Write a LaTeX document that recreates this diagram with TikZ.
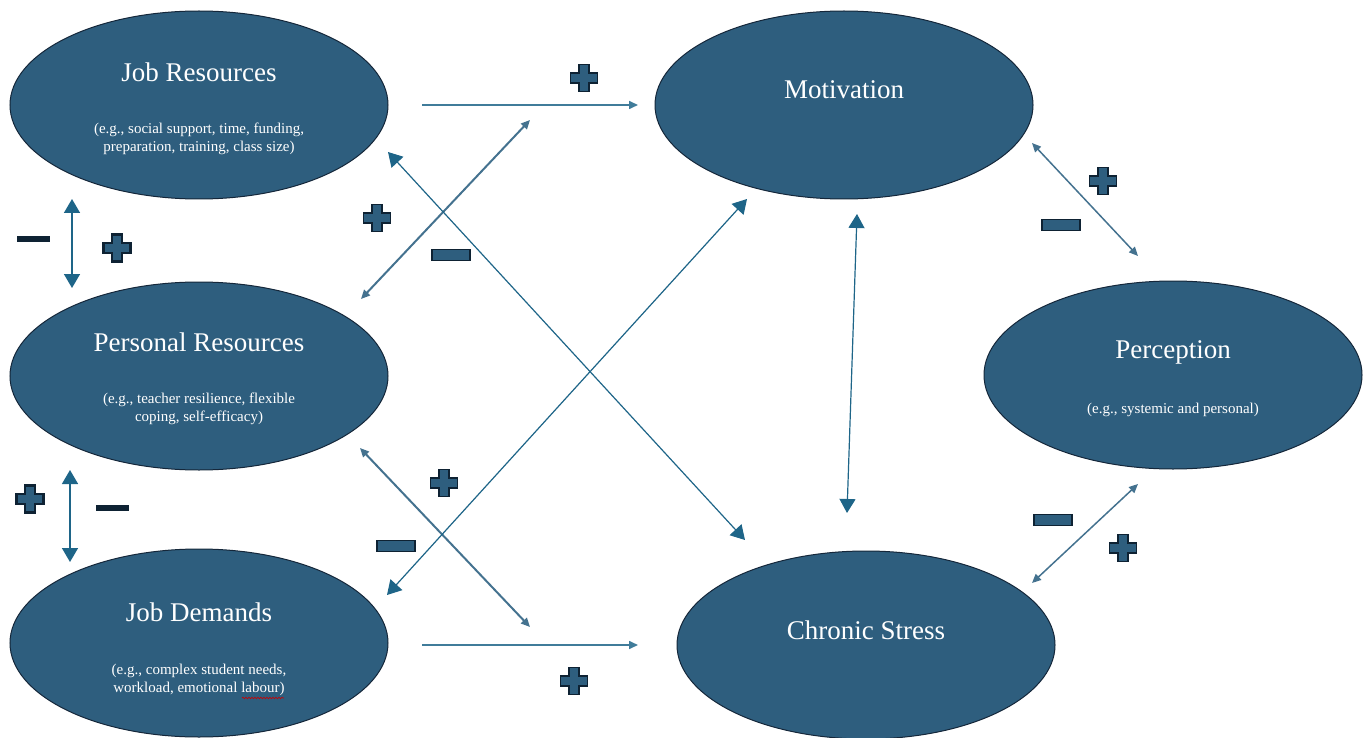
\documentclass[tikz,border=0pt]{standalone}
\usepackage{fontspec}
\setmainfont{Liberation Serif}
\usetikzlibrary{shapes.geometric,arrows.meta,positioning,decorations.pathmorphing}

\definecolor{bubble}{HTML}{2E5E7E}
\definecolor{rim}{HTML}{15273A}
\definecolor{link}{HTML}{1E6588}
\definecolor{linkgrey}{HTML}{44728F}
\definecolor{signdark}{HTML}{0E2233}

\tikzset{
  construct/.style={ellipse, fill=bubble, draw=rim, line width=1pt,
    minimum width=378pt, minimum height=188pt, inner sep=0pt},
  heading/.style={text=white, font=\fontsize{27}{30}\selectfont, inner sep=0pt},
  example/.style={text=white, font=\fontsize{15}{17.5}\selectfont, align=center, inner sep=0pt},
  bigtip/.tip={Triangle[width=16pt,length=14pt]},
  smalltip/.tip={Triangle[width=8pt,length=9pt]},
  strong/.style={link, line width=1.2pt, bigtip-bigtip},
  light/.style={linkgrey, line width=2pt, smalltip-smalltip},
  oneway/.style={link!85!white, line width=1.6pt, -smalltip},
  plussign/.pic={
    \filldraw[fill=bubble, draw=signdark, line width=#1]
      (-5,-13.5) -- (5,-13.5) -- (5,-5) -- (13.5,-5) -- (13.5,5) -- (5,5)
      -- (5,13.5) -- (-5,13.5) -- (-5,5) -- (-13.5,5) -- (-13.5,-5) -- (-5,-5) -- cycle;
  },
  pics/plussign/.default=1.2pt,
  minussign/.pic={
    \filldraw[fill=bubble, draw=signdark, line width=1.2pt] (-19,-5.5) rectangle (19,5.5);
  },
  darkminus/.pic={
    \fill[signdark] (-16.5,-3) rectangle (16.5,3);
  }
}

\begin{document}
\begin{tikzpicture}[x=1pt,y=-1pt]
\useasboundingbox (0,0) rectangle (1370,738);

% Constructs
\node[construct] (jr)  at (199,105) {};
\node[construct] (pr)  at (199,376) {};
\node[construct] (jd)  at (199,643) {};
\node[construct] (mot) at (844,105) {};
\node[construct] (cs)  at (866,645) {};
\node[construct] (per) at (1173,375) {};

% Titles and examples
\node[heading] (jr-t) at ([yshift=33pt]jr.center) {Job Resources};
\node[example] (jr-e) at ([yshift=-34pt]jr.center) {(e.g., social support, time, funding,\\preparation, training, class size)};
\node[heading] (pr-t) at ([yshift=34pt]pr.center) {Personal Resources};
\node[example] (pr-e) at ([yshift=-33pt]pr.center) {(e.g., teacher resilience, flexible\\coping, self-efficacy)};
\node[heading] (jd-t) at ([yshift=31pt]jd.center) {Job Demands};
\node[example] (jd-e) at ([yshift=-37pt]jd.center) {(e.g., complex student needs,\\workload, emotional labour)};
\node[heading] (mot-t) at ([yshift=15pt]mot.center) {Motivation};
\node[heading] (cs-t) at ([yshift=15pt]cs.center) {Chronic Stress};
\node[heading] (per-t) at ([yshift=23pt]per.center) {Perception};
\node[example] (per-e) at ([yshift=-35pt]per.center) {(e.g., systemic and personal)};

% spell-check squiggle under "labour"
\draw[red!80!black, line width=0.6pt, decorate,
  decoration={snake, amplitude=0.8pt, segment length=3pt}] (242,698) -- (284,698);

% Free arrow ends
\coordinate (jr-out)  at (422,105);
\coordinate (mot-in)  at (638,105);
\coordinate (jd-out)  at (422,645);
\coordinate (cs-in)   at (638,645);
\coordinate (pr-up)   at (361,299);
\coordinate (mot-dl)  at (530,120);
\coordinate (pr-dn)   at (360,448);
\coordinate (cs-ul)   at (530,627);
\coordinate (jr-se)   at (388,152);
\coordinate (cs-nw)   at (745,540);
\coordinate (jd-ne)   at (387,595);
\coordinate (mot-sw)  at (747,199);
\coordinate (mot-s)   at (857,214);
\coordinate (cs-n)    at (847,513);
\coordinate (jr-s)    at (72,199);
\coordinate (pr-n)    at (72,288);
\coordinate (pr-s)    at (70,470);
\coordinate (jd-n)    at (70,562);
\coordinate (mot-se)  at (1032,143);
\coordinate (per-nw)  at (1138,256);
\coordinate (per-sw)  at (1138,484);
\coordinate (cs-ne)   at (1032,583);

% Connectors
\draw[oneway] (jr-out) -- (mot-in);
\draw[oneway] (jd-out) -- (cs-in);
\draw[light] (pr-up) -- (mot-dl);
\draw[light] (pr-dn) -- (cs-ul);
\draw[strong] (jr-se) -- (cs-nw);
\draw[strong] (jd-ne) -- (mot-sw);
\draw[strong] (mot-s) -- (cs-n);
\draw[strong, line width=1.5pt] (jr-s) -- (pr-n);
\draw[strong, line width=1.5pt] (pr-s) -- (jd-n);
\draw[light, line width=1.5pt] (mot-se) -- (per-nw);
\draw[light, line width=1.5pt] (per-sw) -- (cs-ne);

% Signs
\pic at (584,78) {plussign};
\pic at (377,218) {plussign};
\pic at (451,255) {minussign};
\pic at (444,483) {plussign};
\pic at (396,546) {minussign};
\pic at (574,681) {plussign};
\pic at (33,239) {darkminus};
\pic at (117,248) {plussign=2.5pt};
\pic at (30,499) {plussign=2.5pt};
\pic at (112,508) {darkminus};
\pic at (1103,181) {plussign};
\pic at (1061,225) {minussign};
\pic at (1053,520) {minussign};
\pic at (1123,548) {plussign};

\end{tikzpicture}
\end{document}
